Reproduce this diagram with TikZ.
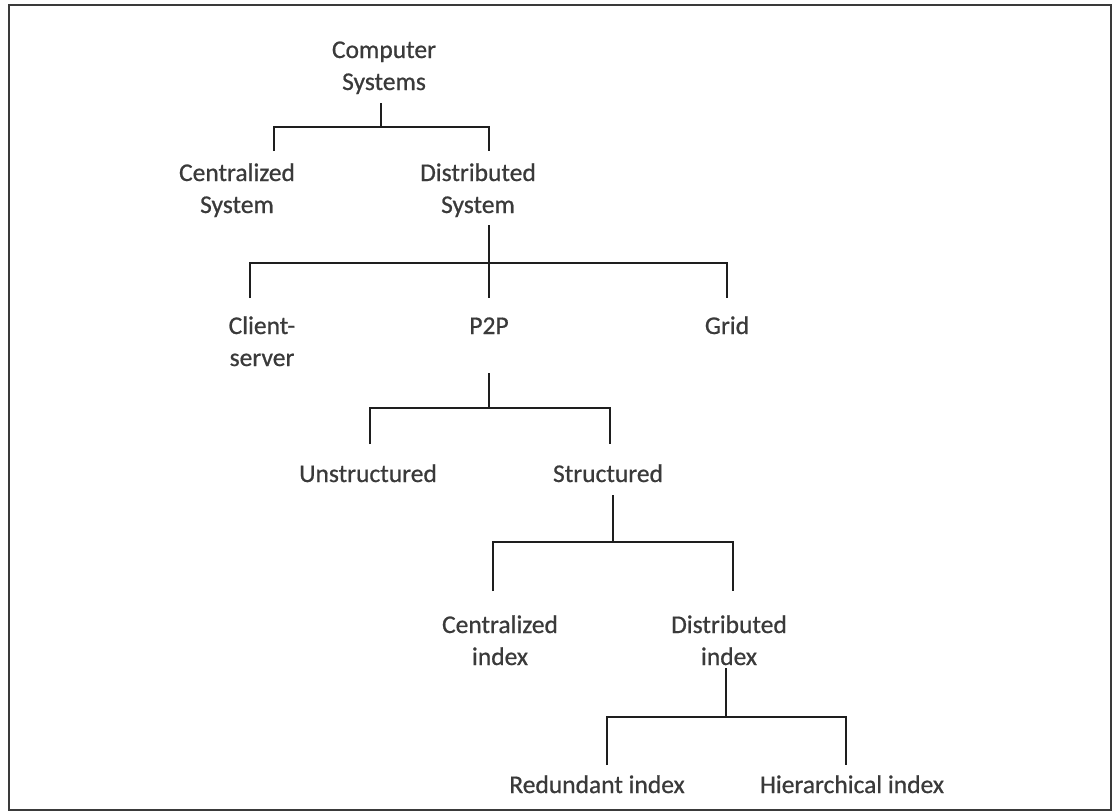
\documentclass[tikz,border=0pt]{standalone}
\usepackage{fontspec}
\setmainfont{Carlito}[FakeBold=0.7]
\definecolor{labelgray}{HTML}{3A3A3A}
\definecolor{linegray}{HTML}{1E1E1E}
\definecolor{framegray}{HTML}{3A3A3A}
% two centred lines whose baseline is that of the first line
\newcommand{\pairlines}[2]{\vtop{\baselineskip=32pt\halign{\hfil##\hfil\cr #1\cr #2\cr}}}
\begin{document}
\begin{tikzpicture}[x=1pt,y=-1pt,
  label/.style={anchor=base,inner sep=0pt,text=labelgray,font=\fontsize{25.5}{32}\selectfont},
  conn/.style={draw=linegray,line width=2.2pt,line join=miter}]
\useasboundingbox (0,0) rectangle (1113,811);
\draw[framegray,line width=2pt] (9,5) rectangle (1111,810);

% labels
\node[label] (root)  at (384,58)  {\pairlines{Computer}{Systems}};
\node[label] (cent)  at (237,181) {\pairlines{Centralized}{System}};
\node[label] (dist)  at (478,181) {\pairlines{Distributed}{System}};
\node[label] (cs)    at (262,334) {\pairlines{Client-}{server}};
\node[label] (p2p)   at (489,334) {P2P};
\node[label] (grid)  at (727,334) {Grid};
\node[label] (unstr) at (368,482) {Unstructured};
\node[label] (str)   at (608,482) {Structured};
\node[label] (cidx)  at (500,633) {\pairlines{Centralized}{index}};
\node[label] (didx)  at (729,633) {\pairlines{Distributed}{index}};
\node[label] (ridx)  at (597,793) {Redundant index};
\node[label] (hidx)  at (852,793) {Hierarchical index};

% connector ends and junctions
\coordinate (rootOut) at (381,103);
\coordinate (rootJ)   at (381,127);
\coordinate (centIn)  at (274,151);
\coordinate (distIn)  at (489,151);

\coordinate (distOut) at (489,225);
\coordinate (distJ)   at (489,263);
\coordinate (csIn)    at (250,298);
\coordinate (p2pIn)   at (489,298);
\coordinate (gridIn)  at (727,298);

\coordinate (p2pOut)  at (489,373);
\coordinate (p2pJ)    at (489,408);
\coordinate (unstrIn) at (370,444);
\coordinate (strIn)   at (610,444);

\coordinate (strOut)  at (613,495);
\coordinate (strJ)    at (613,542);
\coordinate (cidxIn)  at (493,591);
\coordinate (didxIn)  at (733,591);

\coordinate (didxOut) at (726,668);
\coordinate (didxJ)   at (726,717);
\coordinate (ridxIn)  at (607,765);
\coordinate (hidxIn)  at (846,765);

% connectors
\draw[conn] (centIn) |- (rootJ) -| (distIn);
\draw[conn] (rootOut) -- (rootJ);

\draw[conn] (csIn) |- (distJ) -| (gridIn);
\draw[conn] (distOut) -- (p2pIn);

\draw[conn] (unstrIn) |- (p2pJ) -| (strIn);
\draw[conn] (p2pOut) -- (p2pJ);

\draw[conn] (cidxIn) |- (strJ) -| (didxIn);
\draw[conn] (strOut) -- (strJ);

\draw[conn] (ridxIn) |- (didxJ) -| (hidxIn);
\draw[conn] (didxOut) -- (didxJ);
\end{tikzpicture}
\end{document}
